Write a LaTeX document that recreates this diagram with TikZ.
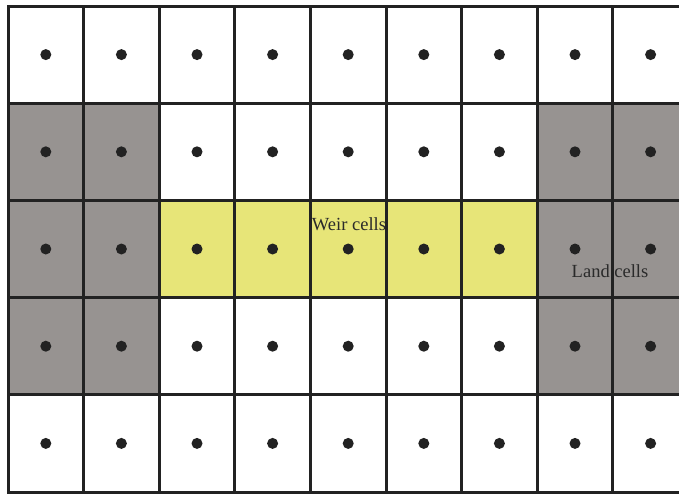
\documentclass[tikz,border=0pt]{standalone}
\usepackage{fontspec}
\setmainfont{Liberation Serif}
\definecolor{landgray}{HTML}{979391}
\definecolor{weiryellow}{HTML}{E7E578}
\definecolor{gridline}{HTML}{222222}
\definecolor{labeltext}{HTML}{2A2A2A}
\begin{document}
\begin{tikzpicture}[x=1pt,y=-1pt,
  cell/.style={draw=gridline, line width=3pt, minimum width=75.6pt, minimum height=97.2pt, inner sep=0pt, outer sep=0pt},
  dot/.style={fill=gridline},
  lbl/.style={font=\fontsize{18.5}{20}\selectfont, text=labeltext, inner sep=0pt}]
\clip (0,0) rectangle (679,493);
\fill[white] (0,0) rectangle (679,493);
\foreach \i in {0,...,8} {
  \foreach \j in {0,...,4} {
    \def\cc{white}
    \ifnum\j>0 \ifnum\j<4 \ifnum\i<2 \def\cc{landgray}\fi \ifnum\i>6 \def\cc{landgray}\fi \fi\fi
    \ifnum\j=2 \ifnum\i>1 \ifnum\i<7 \def\cc{weiryellow}\fi\fi\fi
    \node[cell, fill=\cc] (c-\i-\j) at ({8+75.6*(\i+0.5)},{6+97.2*(\j+0.5)}) {};
  }
}
\foreach \i in {0,...,8} {
  \foreach \j in {0,...,4} {
    \fill[dot] (c-\i-\j.center) circle (5.5pt);
  }
}
\node[lbl] (weir) at (349,224) {Weir cells};
\node[lbl] (land) at (610,271) {Land cells};
\end{tikzpicture}
\end{document}
